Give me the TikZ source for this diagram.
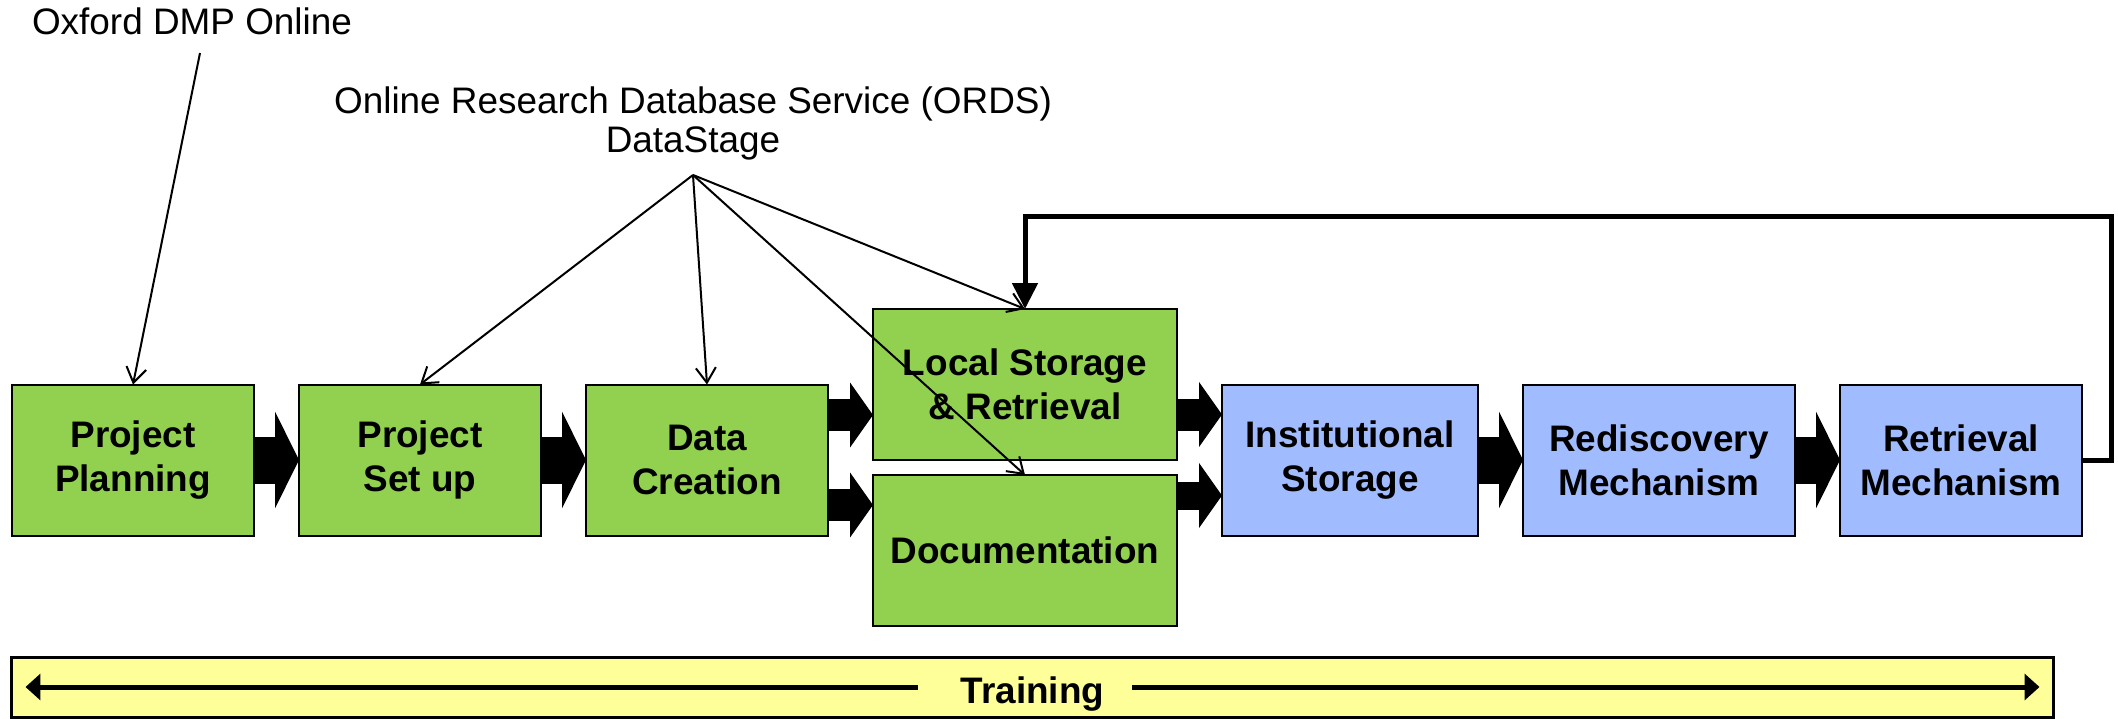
\documentclass[tikz,border=0pt]{standalone}
\usepackage{fontspec}
\setmainfont{Liberation Sans}
\usepackage{tikz}
\usetikzlibrary{arrows.meta,calc,positioning}

\definecolor{stepgreen}{RGB}{146,208,80}
\definecolor{stepblue}{RGB}{160,188,255}
\definecolor{trainyellow}{RGB}{255,255,153}

\begin{document}
\begin{tikzpicture}[node distance=4.5mm and 4.5mm]
    \tikzstyle{box} = [draw,line width=0.2mm,minimum width=24.2mm,minimum height=15.1mm,inner sep=0pt,outer sep=0pt,align=center,font=\bfseries\fontsize{10.5}{12.5}\selectfont]
    \tikzstyle{greenbox} = [box,fill=stepgreen]
    \tikzstyle{bluebox} = [box,fill=stepblue]
    \tikzstyle{source} = [align=center,font=\fontsize{10.5}{11.1}\selectfont]
    \tikzstyle{bigedge} = [line width=4.7mm,-{Triangle[length=2.4mm,width=9.6mm]}]
    \tikzstyle{edge} = [line width=3.2mm,-{Triangle[length=2.3mm,width=6.4mm]}]
    \tikzstyle{link} = [line width=0.2mm,-{Straight Barb[length=1.5mm,width=2mm]}]
    \tikzstyle{feedback} = [line width=0.5mm,-{Triangle[length=2.6mm,width=2.5mm]}]
    \tikzstyle{trainedge} = [line width=0.5mm,-{Triangle[length=1.5mm,width=2.6mm]}]

    \useasboundingbox (0,0) rectangle (21.18,7.18);

    \node[greenbox] (plan) at (1.33,2.58) {Project\\Planning};
    \node[greenbox] (setup) [right=of plan] {Project\\Set up};
    \node[greenbox] (data) [right=of setup] {Data\\Creation};
    \node[greenbox,minimum width=30.4mm,anchor=south west] (local) at ($(data.east)+(0.45,0)$) {Local Storage\\\& Retrieval};
    \node[greenbox,minimum width=30.4mm] (doc) [below=1.5mm of local] {Documentation};
    \node[bluebox,minimum width=25.6mm,anchor=west] (inst) at ($(local.south east)+(0.45,0)$) {Institutional\\Storage};
    \node[bluebox,minimum width=27.2mm] (redisc) [right=of inst] {Rediscovery\\Mechanism};
    \node[bluebox] (retr) [right=of redisc] {Retrieval\\Mechanism};

    \node[source,anchor=base] (oxford) at (1.92,6.83) {Oxford DMP Online};
    \node[source] (ords) at (6.93,5.95) {Online Research Database Service (ORDS)\\DataStage};
    \coordinate (oxtail) at (2.00,6.65);
    \coordinate (fan) at (6.93,5.43);
    \coordinate (loopcorner) at ($(local.north)+(0,0.93)$);

    \draw[bigedge] (plan) -- (setup);
    \draw[bigedge] (setup) -- (data);
    \draw[bigedge] (inst) -- (redisc);
    \draw[bigedge] (redisc) -- (retr);
    \draw[edge] ($(data.east)+(0,0.45)$) -- ($(local.west |- data.east)+(0,0.45)$);
    \draw[edge] ($(data.east)+(0,-0.45)$) -- ($(doc.west |- data.east)+(0,-0.45)$);
    \draw[edge] ($(local.east |- inst.west)+(0,0.455)$) -- ($(inst.west)+(0,0.455)$);
    \draw[edge,line width=2.8mm] ($(doc.east |- inst.west)+(0,-0.355)$) -- ($(inst.west)+(0,-0.355)$);

    \draw[link] (oxtail) -- (plan.north);
    \foreach \target in {setup,data,local,doc}
        \draw[link] (fan) -- (\target.north);
    \draw[feedback] (retr.east) -- ++(0.29,0) |- (loopcorner) -- (local.north);

    \node[draw,line width=0.3mm,fill=trainyellow,minimum width=204.1mm,minimum height=6mm,inner sep=0pt] (bar) at (10.325,0.31) {};
    \node[anchor=base,font=\bfseries\fontsize{10.5}{12}\selectfont] (training) at ($(bar.center)+(0,-0.16)$) {Training};
    \draw[trainedge] ($(bar.center)+(-1.145,0)$) -- ($(bar.west)+(0.15,0)$);
    \draw[trainedge] ($(bar.center)+(0.995,0)$) -- ($(bar.east)+(-0.15,0)$);
\end{tikzpicture}
\end{document}
